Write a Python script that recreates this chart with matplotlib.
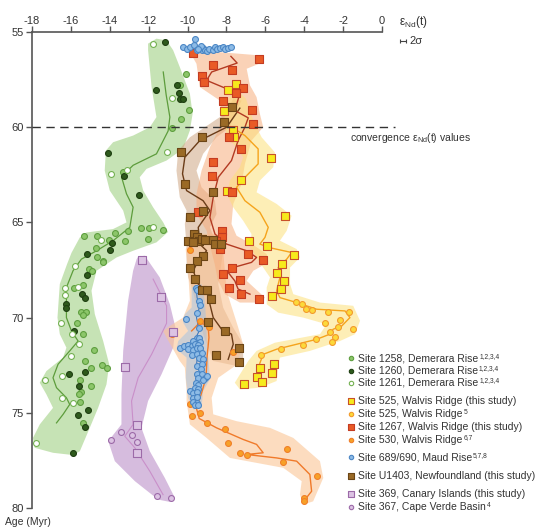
import numpy as np
import matplotlib
matplotlib.use("Agg")
import matplotlib.pyplot as plt

plt.rcParams["font.family"] = ["Liberation Sans", "DejaVu Sans"]
plt.rcParams["mathtext.fontset"] = "custom"
plt.rcParams["mathtext.rm"] = "Liberation Sans"
plt.rcParams["mathtext.it"] = "Liberation Sans:italic"
plt.rcParams["axes.unicode_minus"] = False

TXT = "#333333"

# ---- Demerara Rise (Sites 1258 / 1260 / 1261) ----
s1258_x = [-10.09, -10.4, -9.93, -10.36, -10.82, -13.31, -13.06, -12.37, -12.0, -11.25, -12.03, -13.74,
           -13.21, -15.32, -14.68, -14.03, -14.72, -14.68, -14.34, -15.06, -14.89, -14.37, -15.85, -15.37,
           -15.46, -15.2, -15.37, -15.68, -15.37, -14.8, -15.27, -14.38, -14.14, -14.97, -15.51, -14.99,
           -15.49, -15.6, -15.54, -15.37]
s1258_y = [57.23, 57.8, 59.12, 59.56, 60.03, 62.37, 65.47, 65.32, 65.32, 65.42, 65.87, 65.56,
           66.0, 65.7, 65.7, 65.91, 66.32, 66.8, 67.05, 67.45, 67.54, 67.07, 68.47, 68.3,
           69.7, 69.7, 69.87, 70.26, 70.87, 71.72, 72.28, 72.5, 72.66, 72.66, 73.3, 73.6,
           73.91, 74.0, 74.44, 75.53]
s1260_x = [-11.17, -11.63, -10.53, -10.45, -10.4, -10.22, -14.08, -13.26, -12.49, -13.88, -14.0, -15.15,
           -15.16, -15.44, -15.29, -16.23, -16.23, -15.85, -15.25, -16.09, -15.58, -15.11, -15.66, -15.29,
           -15.89]
s1260_y = [55.53, 58.03, 57.8, 58.2, 58.54, 58.54, 61.37, 62.54, 63.58, 66.09, 66.47, 66.66,
           67.75, 68.77, 68.98, 69.3, 69.5, 70.7, 72.84, 72.98, 73.58, 74.86, 75.12, 75.74,
           77.12]
s1261_x = [-11.8, -10.82, -11.05, -13.93, -13.1, -11.8, -14.46, -15.8, -16.31, -15.63, -16.28, -16.5,
           -15.92, -15.57, -16.02, -16.45, -17.34, -16.45, -15.89, -17.77]
s1261_y = [55.65, 58.49, 61.28, 62.44, 62.23, 65.26, 65.91, 67.28, 68.45, 68.4, 68.82, 70.3,
           70.84, 71.4, 72.03, 73.05, 73.28, 74.2, 74.47, 76.58]
dem_line_x = [-11.25, -11.1, -10.91, -11.0, -11.6, -12.8, -13.4, -13.14, -12.8, -12.97, -13.83, -14.68,
              -15.46, -15.89, -16.23, -16.23, -15.97, -15.63, -16.06, -16.66, -16.92, -16.74, -16.23,
              -16.06, -16.4, -16.74]
dem_line_y = [57.1, 58.3, 59.47, 60.2, 61.4, 62.0, 62.6, 63.5, 64.2, 65.26, 65.96, 66.49,
              66.93, 67.54, 68.42, 70.0, 70.7, 71.23, 71.75, 72.45, 73.16, 73.68, 74.21,
              74.56, 75.08, 75.53]
dem_env_x = [-11.6, -11.08, -10.74, -10.4, -9.88, -9.74, -9.88, -10.23, -11.08, -12.11, -12.46, -12.28,
             -11.77, -11.25, -11.0, -11.6, -12.8, -13.65, -14.68, -14.94, -14.77, -14.34, -14.03, -14.17,
             -14.6, -15.03, -15.54, -15.89, -16.92, -17.86, -17.95, -17.6, -16.92, -17.26, -17.6, -17.26,
             -16.4, -16.23, -16.57, -16.69, -16.57, -16.2, -15.97, -15.54, -15.2, -13.83, -13.14, -13.31,
             -14.0, -14.26, -14.2, -13.83, -12.8, -11.94, -11.6, -11.85, -12.03, -12.03]
dem_env_y = [55.35, 55.44, 55.96, 56.84, 58.24, 59.3, 60.17, 61.14, 61.75, 62.19, 62.63, 63.33,
             64.21, 65.0, 65.5, 66.05, 66.49, 66.84, 67.54, 68.59, 69.82, 71.23, 72.45, 73.51,
             74.74, 75.79, 77.02, 77.22, 77.1, 76.84, 76.32, 75.61, 74.74, 74.03, 73.42, 72.81,
             72.1, 71.58, 70.87, 70.0, 68.24, 67.2, 66.6, 65.79, 65.53, 65.35, 65.0, 64.38,
             63.33, 62.28, 61.23, 60.79, 60.44, 60.0, 59.47, 57.89, 55.96, 55.61]

# ---- Walvis Ridge (Sites 525 / 1267 / 530) ----
s525_sq_x = [-7.53, -7.94, -8.12, -7.68, -7.6, -5.73, -7.27, -7.96, -4.99, -6.85, -5.9, -4.53,
             -5.13, -5.39, -5.04, -5.18, -5.65, -5.56, -6.28, -5.65, -6.45, -6.19, -7.09]
s525_sq_y = [57.72, 58.07, 59.17, 60.17, 60.49, 61.63, 62.75, 63.37, 64.65, 66.0, 66.26, 66.7,
             67.16, 67.66, 68.07, 68.5, 68.84, 72.45, 72.66, 72.93, 73.1, 73.37, 73.51]
s525_c_x = [-4.44, -4.13, -3.93, -3.62, -2.76, -1.68, -2.93, -2.16, -2.28, -1.48, -2.68, -2.42,
            -2.59, -3.41, -4.05, -5.2, -6.23]
s525_c_y = [69.16, 69.29, 69.56, 69.6, 69.68, 69.68, 70.26, 70.12, 70.49, 70.61, 70.74, 71.0,
            71.26, 71.14, 71.45, 71.65, 71.98]
s525_line_x = [-7.57, -7.05, -6.37, -6.37, -6.96, -7.48, -7.05, -6.28, -5.85, -6.02, -6.28, -5.68,
               -4.65, -4.9, -5.34, -5.25, -5.42, -5.25, -4.39, -3.36, -1.9, -1.65, -2.07, -2.51,
               -2.68, -3.36, -4.39, -5.42, -6.11, -6.37, -6.28]
s525_line_y = [60.1, 60.44, 61.14, 61.93, 62.54, 63.16, 63.86, 64.47, 65.26, 65.79, 66.14, 66.35,
               66.58, 66.93, 67.37, 67.89, 68.6, 68.95, 69.21, 69.56, 69.65, 70.0, 70.44, 70.61,
               70.87, 71.14, 71.4, 71.66, 71.93, 72.63, 72.98]
s525_env_x = [-7.5, -7.0, -6.62, -6.19, -5.51, -5.59, -6.28, -6.45, -5.42, -4.65, -4.9, -5.25,
              -4.39, -4.22, -4.73, -4.73, -4.56, -3.19, -1.48, -1.13, -1.39, -2.16, -3.71, -5.25,
              -5.34, -5.42, -6.28, -7.31, -7.57, -6.88, -6.45, -5.51, -3.19, -2.85, -4.05, -5.34,
              -5.93, -5.93, -5.76, -6.11, -6.45, -6.79, -6.71, -7.14, -7.65, -7.99, -7.82, -7.31,
              -7.14, -7.48, -7.99, -8.1, -7.9]
s525_env_y = [58.0, 58.5, 59.65, 60.53, 61.32, 62.1, 62.8, 63.42, 64.03, 64.65, 65.44, 65.96,
              66.4, 66.84, 67.37, 68.24, 68.77, 69.21, 69.38, 70.17, 70.87, 71.23, 71.75, 72.1,
              72.63, 73.33, 73.68, 73.77, 73.42, 72.28, 71.75, 71.32, 70.87, 70.35, 70.0, 69.74,
              69.3, 68.42, 67.89, 67.37, 66.84, 66.32, 65.61, 64.91, 64.21, 63.5, 62.8, 62.1,
              61.58, 61.05, 60.53, 59.5, 58.5]

s1267_x = [-9.74, -8.71, -6.33, -7.74, -9.28, -9.14, -7.14, -7.53, -8.17, -6.71, -6.65, -7.87,
           -7.27, -8.68, -8.76, -7.74, -9.45, -8.25, -8.25, -8.54, -8.3, -8.34, -6.88, -6.11,
           -7.74, -8.17, -7.31, -7.86, -7.26, -6.31]
s1267_y = [56.1, 56.72, 56.44, 57.02, 57.33, 57.63, 57.95, 58.21, 58.63, 59.12, 59.82, 60.49,
           61.14, 61.84, 62.54, 63.42, 64.47, 65.44, 65.79, 66.0, 66.14, 66.4, 66.66, 66.98,
           67.4, 67.72, 68.03, 68.42, 68.74, 69.03]
s1267_line_x = [-7.77, -7.45, -8.76, -9.02, -7.99, -7.31, -7.57, -6.88, -7.05, -7.4, -7.74, -8.42,
                -8.68, -8.85, -8.59, -7.99, -6.96, -6.45, -6.71, -7.65, -7.91, -7.57, -7.4, -6.79]
s1267_line_y = [56.28, 56.63, 57.1, 57.54, 57.98, 58.24, 59.12, 59.51, 60.0, 60.7, 61.75, 62.63,
                63.68, 64.74, 65.61, 66.14, 66.49, 66.84, 67.1, 67.37, 67.63, 68.07, 68.5, 68.77]
s1267_env_x = [-9.54, -6.28, -6.11, -6.96, -6.79, -6.45, -6.28, -6.11, -6.71, -7.05, -7.22, -7.65,
               -7.74, -7.48, -6.6, -5.93, -5.85, -6.62, -6.96, -6.02, -6.28, -7.31, -8.08, -8.45,
               -8.6, -8.75, -9.02, -9.54, -9.54, -9.28, -8.85, -8.42, -8.25, -8.34, -9.37, -9.54,
               -9.8]
s1267_env_y = [55.96, 56.23, 56.58, 56.93, 57.8, 58.42, 59.3, 60.0, 60.7, 61.93, 62.98, 64.03,
               65.08, 65.7, 66.2, 66.66, 67.1, 67.54, 68.07, 68.95, 69.21, 69.21, 68.77, 68.0,
               67.2, 66.6, 65.44, 64.56, 63.5, 62.28, 61.05, 60.17, 59.47, 58.6, 57.89, 56.67,
               56.2]

s530_x = [-9.88, -9.37, -8.9, -10.82, -7.65, -9.88, -9.79, -9.37, -8.99, -8.08, -7.94, -7.31,
          -6.93, -4.9, -5.08, -3.36, -4.01, -4.0]
s530_y = [66.44, 70.17, 70.47, 70.84, 71.79, 74.52, 75.17, 75.0, 75.54, 75.87, 76.58, 77.12,
          77.23, 76.89, 77.58, 78.3, 79.47, 79.61]
s530_line_x = [-9.79, -9.37, -8.94, -8.9, -9.0, -9.05, -9.3, -9.55, -9.4, -8.51, -7.14, -6.45,
               -6.11, -6.96, -5.42, -4.39, -3.71, -3.62, -3.96]
s530_line_y = [70.7, 70.26, 70.44, 71.05, 72.1, 73.16, 74.03, 74.74, 75.3, 75.79, 76.4, 76.66,
               77.1, 77.19, 77.37, 77.54, 78.24, 79.12, 79.56]
s530_env_x = [-8.6, -8.17, -7.99, -7.4, -7.14, -7.5, -8.42, -8.76, -8.68, -7.48, -5.76, -4.56,
              -3.19, -3.02, -3.54, -4.05, -4.22, -4.13, -5.08, -6.45, -7.82, -9.02, -9.88, -10.05,
              -10.05, -10.14, -10.4, -11.08, -11.26, -10.91, -10.23, -9.88, -9.97, -10.1, -9.6]
s530_env_y = [65.6, 66.49, 68.6, 70.5, 71.4, 72.5, 73.16, 74.21, 75.08, 75.44, 75.79, 76.32,
              77.54, 78.42, 79.65, 79.82, 79.3, 78.59, 77.89, 77.63, 77.37, 76.32, 75.61, 74.38,
              73.86, 72.63, 72.28, 71.05, 70.7, 70.44, 70.0, 69.12, 67.54, 66.4, 65.6]

# ---- Maud Rise (Site 689/690) ----
s689_x = [-10.26, -10.05, -9.85, -9.66, -9.54, -9.6, -9.4, -9.28, -9.2, -9.11, -9.02, -8.89,
          -8.71, -8.59, -8.48, -8.34, -8.2, -8.08, -7.91, -7.79, -9.33, -9.45,
          -9.57, -9.51, -9.4, -9.37, -9.49, -10.09, -9.4, -9.54, -9.4, -9.71, -9.37, -10.4,
          -10.19, -9.97, -9.79, -9.62, -9.45, -9.97, -9.74, -9.54, -9.37, -9.79, -9.54, -9.28,
          -9.4, -9.23, -9.54, -9.28, -9.33, -9.54, -9.28, -9.45, -9.11, -9.23, -9.02, -9.57,
          -9.45, -9.62, -9.45, -9.88, -9.71, -9.54, -9.71, -9.54, -9.71, -9.51, -9.62, -9.45]
s689_y = [55.8, 55.87, 55.79, 55.7, 55.96, 55.35, 55.9, 55.96, 55.82, 55.93, 56.0, 55.87,
          55.96, 55.79, 55.87, 55.82, 55.79, 55.87, 55.82, 55.79, 55.72, 55.9,
          68.42, 68.56, 69.12, 69.35, 69.74, 70.08, 70.53, 71.08, 71.08, 71.23, 71.26, 71.58,
          71.49, 71.44, 71.49, 71.4, 71.44, 71.66, 71.72, 71.61, 71.58, 71.96, 71.93, 71.84,
          72.14, 72.19, 72.54, 72.45, 72.72, 72.98, 72.95, 73.16, 73.16, 73.29, 73.07, 73.45,
          73.56, 73.68, 73.77, 73.86, 73.95, 73.91, 74.21, 74.16, 74.42, 74.47, 74.59, 74.59]
s689_line_x = [-9.57, -9.51, -9.37, -9.54, -9.4, -9.62, -9.45, -9.54, -9.28, -9.54, -9.62, -9.54]
s689_line_y = [68.33, 68.95, 69.38, 70.0, 70.7, 71.14, 71.75, 72.45, 72.81, 73.16, 73.86, 74.56]
s689_env_x = [-9.79, -9.28, -9.11, -9.02, -9.02, -8.89, -8.85, -9.2, -9.28, -9.71, -9.97, -10.09,
              -10.05, -10.57, -10.48, -9.97, -10.23, -10.14, -9.79, -9.79]
s689_env_y = [68.42, 68.24, 69.12, 70.53, 71.23, 72.63, 73.24, 73.86, 74.74, 74.82, 74.21, 73.16,
              72.1, 71.66, 71.23, 70.7, 70.26, 69.82, 69.47, 69.0]

# ---- Newfoundland (Site U1403) ----
u1403_x = [-7.74, -8.13, -9.28, -10.36, -10.15, -8.68, -9.85, -9.2, -9.66, -9.51, -9.4, -9.28,
           -9.11, -9.97, -9.71, -8.71, -8.59, -8.29, -9.2, -9.51, -9.85, -9.62, -9.28, -9.02,
           -8.82, -8.94, -8.08, -7.36, -8.56, -7.36]
u1403_y = [58.95, 59.74, 60.49, 61.32, 62.98, 63.42, 64.7, 64.38, 65.61, 65.75, 66.0, 65.87,
           65.93, 65.96, 66.05, 65.93, 66.14, 66.14, 66.78, 67.05, 67.42, 67.98, 68.56, 68.56,
           69.03, 70.21, 70.7, 71.58, 71.98, 72.33]
u1403_line_x = [-7.31, -7.99, -9.37, -10.14, -10.26, -10.05, -9.2, -8.85, -9.45, -9.37, -9.02, -9.45,
                -9.71, -9.45, -9.02, -8.85, -8.68, -8.25, -7.74, -7.65, -7.91]
u1403_line_y = [59.0, 60.0, 60.7, 61.58, 62.45, 63.33, 63.86, 64.38, 65.26, 66.14, 66.49, 67.02,
                67.54, 68.24, 68.6, 69.3, 70.0, 70.61, 70.87, 71.4, 72.19]
u1403_env_x = [-7.65, -7.22, -7.48, -7.82, -8.51, -9.2, -9.54, -9.28, -8.59, -8.51, -8.85, -8.51,
               -8.17, -8.42, -8.17, -7.65, -7.14, -7.14, -7.48, -8.68, -9.2, -9.45, -9.79, -9.97,
               -10.05, -10.05, -10.14, -10.05, -10.4, -10.57, -10.48, -9.88, -8.34, -7.74]
u1403_env_y = [58.5, 58.6, 59.12, 60.0, 60.53, 61.4, 62.28, 63.16, 63.86, 64.56, 65.26, 66.14,
               66.5, 68.24, 69.47, 70.53, 71.4, 72.1, 72.54, 72.28, 70.87, 69.65, 68.42, 67.89,
               67.19, 66.32, 65.08, 64.38, 63.68, 62.28, 61.23, 60.53, 59.47, 58.68]

# ---- Canary Islands (Site 369) / Cape Verde Basin (Site 367) ----
s369_x = [-12.34, -11.36, -10.77, -13.23, -12.62, -12.62]
s369_y = [66.96, 68.93, 70.75, 72.6, 75.65, 77.1]
s367_x = [-13.43, -12.88, -13.96, -12.59, -11.58, -10.87]
s367_y = [76.02, 76.19, 76.44, 76.53, 79.37, 79.47]
ca_line_x = [-11.77, -11.08, -11.08, -11.85, -12.54, -12.88, -12.8, -13.23, -12.71, -11.94, -11.26]
ca_line_y = [67.98, 69.38, 70.3, 71.93, 73.16, 74.38, 75.61, 76.23, 76.84, 78.07, 79.3]
ca_env_x = [-12.54, -12.2, -11.43, -10.91, -10.62, -10.74, -11.34, -12.03, -12.37, -11.94, -11.17, -10.65,
            -10.91, -11.51, -12.71, -13.74, -14.08, -13.74, -13.4, -13.4, -13.31, -13.06, -12.8, -12.62]
ca_env_y = [66.8, 66.75, 67.89, 69.3, 70.53, 71.58, 72.98, 74.38, 75.79, 77.02, 78.42, 79.47,
            79.68, 79.56, 78.59, 77.54, 76.49, 76.05, 75.61, 74.03, 71.75, 69.12, 67.54, 66.93]

x_ticks = [-18, -16, -14, -12, -10, -8, -6, -4, -2, 0]
y_ticks = [55, 60, 65, 70, 75, 80]

fig = plt.figure(figsize=(5.4, 5.29), dpi=100)
ax = fig.add_axes([32 / 540, 1 - 508 / 529, 350 / 540, 476 / 529])

# envelopes
envs = [
    (dem_env_x, dem_env_y, "#b4da9c", 0.75),
    (ca_env_x, ca_env_y, "#c9a6d4", 0.75),
    (u1403_env_x, u1403_env_y, "#cfa783", 0.55),
    (s530_env_x, s530_env_y, "#fbc595", 0.6),
    (s1267_env_x, s1267_env_y, "#f7ad7c", 0.55),
    (s525_env_x, s525_env_y, "#fde07a", 0.55),
    (s689_env_x, s689_env_y, "#9fc2e6", 0.5),
]
for ex, ey, c, a in envs:
    ax.fill(ex, ey, color=c, alpha=a, lw=0, zorder=1)

# smoothed curves
curves = [
    (dem_line_x, dem_line_y, "#5d9c3c", 0.9),
    (ca_line_x, ca_line_y, "#c98fc9", 0.8),
    (u1403_line_x, u1403_line_y, "#6b3c18", 1.0),
    (s530_line_x, s530_line_y, "#f07a2a", 1.0),
    (s1267_line_x, s1267_line_y, "#b33a22", 1.0),
    (s525_line_x, s525_line_y, "#f5a41c", 1.0),
    (s689_line_x, s689_line_y, "#3f78bb", 0.8),
]
for lx, ly, c, w in curves:
    ax.plot(lx, ly, color=c, lw=w, zorder=2, solid_joinstyle="round")

# data points: (x, y, marker, face, edge, size, label, superscript)
series = [
    (s1258_x, s1258_y, "o", "#8cc66a", "#5e9e3f", 18, "Site 1258, Demerara Rise", "1,2,3,4"),
    (s1260_x, s1260_y, "o", "#2e5a1c", "#1f3f12", 18, "Site 1260, Demerara Rise", "1,2,3,4"),
    (s1261_x, s1261_y, "o", "white", "#74b152", 18, "Site 1261, Demerara Rise", "1,2,3,4"),
    (s525_sq_x, s525_sq_y, "s", "#f7ea1c", "#c8502a", 30, "Site 525, Walvis Ridge (this study)", ""),
    (s525_c_x, s525_c_y, "o", "#fcd93a", "#f39a2c", 18, "Site 525, Walvis Ridge", "5"),
    (s1267_x, s1267_y, "s", "#e95a26", "#c43c22", 30, "Site 1267, Walvis Ridge (this study)", ""),
    (s530_x, s530_y, "o", "#f7a128", "#f07f2a", 18, "Site 530, Walvis Ridge", "6,7"),
    (s689_x, s689_y, "o", "#8dbbe6", "#4b86c5", 18, "Site 689/690, Maud Rise", "5,7,8"),
    (u1403_x, u1403_y, "s", "#9a6a26", "#6b4516", 30, "Site U1403, Newfoundland (this study)", ""),
    (s369_x, s369_y, "s", "#dcc3e3", "#9c6aa8", 30, "Site 369, Canary Islands (this study)", ""),
    (s367_x, s367_y, "o", "#dcc3e3", "#9c6aa8", 18, "Site 367, Cape Verde Basin", "4"),
]
draw_order = [0, 1, 2, 9, 10, 8, 6, 5, 3, 4, 7]
for i in draw_order:
    sx, sy, m, fc, ec, s = series[i][:6]
    ax.scatter(sx, sy, marker=m, s=s, facecolor=fc, edgecolor=ec, linewidth=0.8, zorder=3 + i * 0.01)

# convergence line
ax.plot([-18, 0.67], [60, 60], color="#333333", lw=1, ls=(0, (6, 4)), clip_on=False, zorder=4)

ax.set_xlim(-18, 0)
ax.set_ylim(80, 55)
ax.xaxis.tick_top()
ax.set_xticks(x_ticks)
ax.set_yticks(y_ticks)
ax.tick_params(direction="out", length=4, width=1, colors="#555555", labelcolor=TXT, labelsize=8)
ax.tick_params(axis="x", pad=0.5)
ax.tick_params(axis="y", pad=2)
for side in ["right", "bottom"]:
    ax.spines[side].set_visible(False)
for side in ["top", "left"]:
    ax.spines[side].set_color("#555555")
    ax.spines[side].set_linewidth(1.2)
ax.patch.set_alpha(0)

# annotations and legend in pixel space
ov = fig.add_axes([0, 0, 1, 1])
ov.set_xlim(0, 540)
ov.set_ylim(529, 0)
ov.axis("off")
ov.patch.set_alpha(0)

ov.text(399, 22, "ε$_{\\rm Nd}$(t)", fontsize=8.5, color=TXT, va="center", ha="left")
ov.errorbar(403, 41, xerr=2.8, color="#444444", lw=0.8, capsize=1.5, capthick=0.8)
ov.text(409, 41, "2σ", fontsize=8, color=TXT, va="center", ha="left")
ov.text(350, 138, "convergence ε$_{\\rm Nd}$(t) values", fontsize=7.5, color=TXT, va="center", ha="left")
ov.text(5, 522, "Age (Myr)", fontsize=7.5, color=TXT, va="center", ha="left")

renderer = fig.canvas.get_renderer()
to_px = ov.transData.inverted()
legend_y = [358.3, 370.7, 382.7, 401, 414.3, 427.3, 440, 457.3, 475.7, 494, 507.3]
for row, ly in zip(series, legend_y):
    m, fc, ec, s, lab, sup = row[2:]
    ov.scatter([350.5], [ly], marker=m, s=s * 0.55, facecolor=fc, edgecolor=ec, linewidth=0.8)
    t = ov.text(358, ly, lab, fontsize=7.5, color=TXT, va="center", ha="left")
    if sup:
        bb = t.get_window_extent(renderer)
        x_end = to_px.transform((bb.x1, bb.y1))[0]
        ov.text(x_end + 0.8, ly - 2.2, sup, fontsize=4.8, color=TXT, va="center", ha="left")

fig.savefig("out.png", dpi=100)
